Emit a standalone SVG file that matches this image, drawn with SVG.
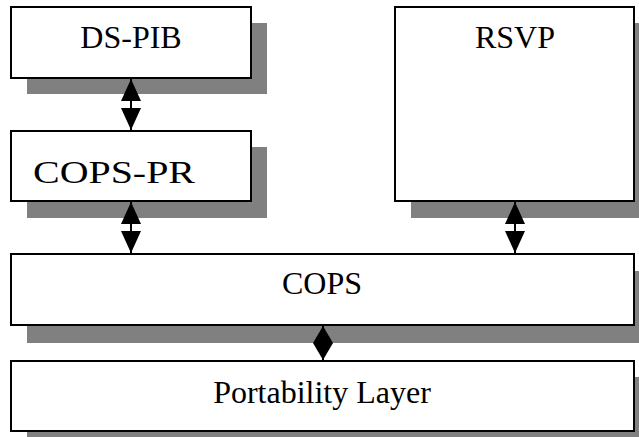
<svg xmlns="http://www.w3.org/2000/svg" width="639" height="437" viewBox="0 0 639 437">
<style>
.shadow{fill:#808080}
.box{fill:#fff;stroke:#000;stroke-width:2}
.lbl{font-family:"Liberation Serif","Times New Roman",Times,serif;font-size:32px;fill:#000;text-anchor:middle}
.conn{stroke:#000;stroke-width:2;fill:none}
</style>
<defs>
<marker id="ah" viewBox="0 0 22 20" refX="22" refY="10" markerWidth="22" markerHeight="20" markerUnits="userSpaceOnUse" orient="auto-start-reverse">
<path d="M0,0 L22,10 L0,20 Z" fill="#000"/>
</marker>
<marker id="ahs" viewBox="0 0 17 20" refX="17" refY="10" markerWidth="17" markerHeight="20" markerUnits="userSpaceOnUse" orient="auto-start-reverse">
<path d="M0,0 L17,10 L0,20 Z" fill="#000"/>
</marker>
</defs>
<g id="ds-pib">
<rect class="shadow" x="27" y="23" width="240" height="71"/>
<rect class="box" x="11" y="7" width="240" height="71"/>
<text class="lbl" x="131" y="48">DS-PIB</text>
</g>
<g id="cops-pr">
<rect class="shadow" x="27" y="147" width="240" height="71"/>
<rect class="box" x="11" y="131" width="240" height="70"/>
<text class="lbl" x="114" y="183" textLength="162" lengthAdjust="spacingAndGlyphs">COPS-PR</text>
</g>
<g id="rsvp">
<rect class="shadow" x="411" y="23" width="239" height="195"/>
<rect class="box" x="395" y="7" width="239" height="194"/>
<text class="lbl" x="515" y="48">RSVP</text>
</g>
<g id="cops">
<rect class="shadow" x="27" y="271" width="623" height="72"/>
<rect class="box" x="11" y="254" width="623" height="71"/>
<text class="lbl" x="322" y="294">COPS</text>
</g>
<g id="portability">
<rect class="shadow" x="27" y="377" width="623" height="70"/>
<rect class="box" x="11" y="361" width="623" height="70"/>
<text class="lbl" x="322" y="403">Portability Layer</text>
</g>
<g id="connectors">
<line class="conn" x1="131" y1="79" x2="131" y2="130" marker-start="url(#ah)" marker-end="url(#ah)"/>
<line class="conn" x1="131" y1="202" x2="131" y2="253" marker-start="url(#ah)" marker-end="url(#ah)"/>
<line class="conn" x1="515" y1="202" x2="515" y2="253" marker-start="url(#ah)" marker-end="url(#ah)"/>
<line class="conn" x1="323" y1="326" x2="323" y2="360" marker-start="url(#ahs)" marker-end="url(#ahs)"/>
</g>
</svg>
